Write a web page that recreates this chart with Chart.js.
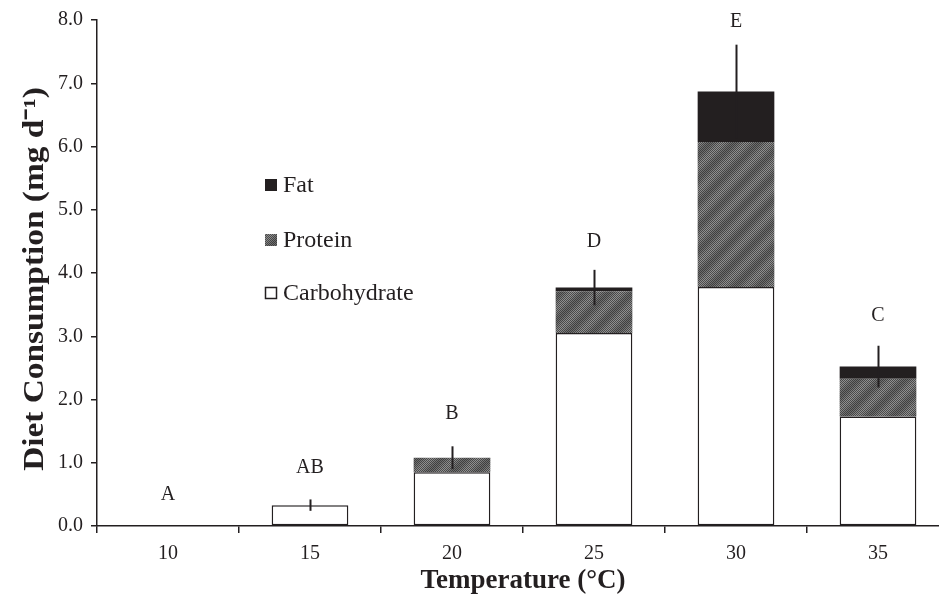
<!DOCTYPE html>
<html>
<head>
<meta charset="utf-8">
<script src="https://cdn.jsdelivr.net/npm/chart.js@4.4.0/dist/chart.umd.min.js"></script>
<style>
  html, body { margin: 0; padding: 0; background: #fff; overflow: hidden; }
  #wrap { position: absolute; left: 0; top: 0; width: 949px; height: 598px; }
</style>
</head>
<body>
<div id="wrap"><canvas id="myChart" width="949" height="598"></canvas></div>
<script>
// temperaturas y consumo por componente (mg/d)
var temps = ["10", "15", "20", "25", "30", "35"];
var carbohidrato = [null, 0.33, 0.85, 3.05, 3.78, 1.73];
var proteina = [null, null, 0.23, 0.66, 2.29, 0.60];
var grasa = [null, null, null, 0.06, 0.80, 0.19];
var desvio = [null, 0.09, 0.18, 0.28, 0.74, 0.33];
var letras = ["A", "AB", "B", "D", "E", "C"];
var alturaLetras = [0.5, 0.92, 1.78, 4.5, 7.98, 3.32];
var yTicks = [0, 1, 2, 3, 4, 5, 6, 7, 8];

var negro = "#231f20";
var serif = "'Liberation Serif', 'Times New Roman', serif";

// trama gris con rayas diagonales suaves para la proteina
function tramaProteina() {
  var c = document.createElement("canvas");
  c.width = 24; c.height = 24;
  var g = c.getContext("2d");
  var img = g.createImageData(24, 24);
  for (var y = 0; y < 24; y++) {
    for (var x = 0; x < 24; x++) {
      var raya = 0.5 + 0.5 * Math.cos(2 * Math.PI * ((x + y) % 24) / 24);
      var v;
      if (x % 2 == y % 2) {
        v = 62 + 14 * raya;
      } else {
        v = 108 + 38 * raya;
      }
      var i = (y * 24 + x) * 4;
      img.data[i] = v; img.data[i + 1] = v; img.data[i + 2] = v; img.data[i + 3] = 255;
    }
  }
  g.putImageData(img, 0, 0);
  return g.createPattern(c, "repeat");
}

var ctxMain = document.getElementById("myChart").getContext("2d");
var patron = tramaProteina();

// barras de error (solo linea vertical) y letras encima
var extras = {
  id: "extras",
  afterDatasetsDraw: function (chart) {
    var ctx = chart.ctx;
    var xs = chart.scales.x, ys = chart.scales.y;
    ctx.save();
    ctx.strokeStyle = negro;
    ctx.lineWidth = 2;
    for (var i = 0; i < temps.length; i++) {
      if (desvio[i] == null) continue;
      var total = (carbohidrato[i] || 0) + (proteina[i] || 0) + (grasa[i] || 0);
      var px = Math.round(xs.getPixelForValue(i)) + 0.5;
      ctx.beginPath();
      ctx.moveTo(px, ys.getPixelForValue(total - desvio[i]));
      ctx.lineTo(px, ys.getPixelForValue(total + desvio[i]));
      ctx.stroke();
    }
    ctx.fillStyle = negro;
    ctx.font = "20px " + serif;
    ctx.textAlign = "center";
    ctx.textBaseline = "middle";
    for (var j = 0; j < letras.length; j++) {
      ctx.fillText(letras[j], xs.getPixelForValue(j), ys.getPixelForValue(alturaLetras[j]));
    }
    ctx.restore();
  }
};

// leyenda dentro del grafico y titulo del eje y (algo estirado)
var leyenda = {
  id: "leyenda",
  afterDraw: function (chart) {
    var ctx = chart.ctx;
    var items = [
      { t: "Fat", f: negro, b: null, y: 185 },
      { t: "Protein", f: patron, b: null, y: 240 },
      { t: "Carbohydrate", f: "#ffffff", b: negro, y: 293 }
    ];
    ctx.save();
    ctx.font = "24px " + serif;
    ctx.textBaseline = "middle";
    ctx.textAlign = "left";
    for (var k = 0; k < items.length; k++) {
      var it = items[k];
      ctx.fillStyle = it.f;
      ctx.fillRect(265, it.y - 6, 12, 12);
      if (it.b) {
        ctx.strokeStyle = it.b;
        ctx.lineWidth = 1.5;
        ctx.strokeRect(265.5, it.y - 5.5, 11, 11);
      }
      ctx.fillStyle = negro;
      ctx.fillText(it.t, 283, it.y + 1);
    }
    ctx.restore();

    ctx.save();
    ctx.translate(36, (chart.chartArea.top + chart.chartArea.bottom) / 2 + 6);
    ctx.rotate(-Math.PI / 2);
    ctx.scale(1.15, 1);
    ctx.font = "bold 29px " + serif;
    ctx.fillStyle = negro;
    ctx.textAlign = "center";
    ctx.textBaseline = "middle";
    ctx.fillText("Diet Consumption (mg d\u207B\u00B9)", 0, 0);
    ctx.restore();
  }
};

new Chart(ctxMain, {
  type: "bar",
  data: {
    labels: temps,
    datasets: [
      { label: "Carbohydrate", data: carbohidrato, backgroundColor: "#ffffff",
        borderColor: negro, borderWidth: 1.5, borderSkipped: false },
      { label: "Protein", data: proteina, backgroundColor: patron, borderWidth: 0 },
      { label: "Fat", data: grasa, backgroundColor: negro, borderWidth: 0 }
    ]
  },
  options: {
    responsive: false,
    animation: false,
    events: [],
    layout: { padding: { top: 18, right: 0, left: 0, bottom: 0 } },
    datasets: { bar: { categoryPercentage: 1, barPercentage: 0.54 } },
    plugins: { legend: { display: false }, tooltip: { enabled: false } },
    scales: {
      x: {
        stacked: true,
        offset: true,
        grid: { display: true, offset: true, drawOnChartArea: false, drawTicks: true,
                tickLength: 7, color: negro, lineWidth: 1.5 },
        border: { display: true, color: negro, width: 1.5 },
        ticks: { color: negro, font: { family: serif, size: 20 }, padding: 9 },
        title: { display: true, text: "Temperature (°C)", color: negro,
                 font: { family: serif, size: 27, weight: "bold" }, padding: { top: 0, bottom: 1 } },
        afterFit: function (s) { s.height = 72; }
      },
      y: {
        stacked: true,
        min: 0,
        max: 8,
        afterBuildTicks: function (s) { s.ticks = yTicks.map(function (v) { return { value: v }; }); },
        grid: { display: true, drawOnChartArea: false, drawTicks: true, tickLength: 6,
                color: negro, lineWidth: 1.5 },
        border: { display: true, color: negro, width: 1.5 },
        ticks: { color: negro, font: { family: serif, size: 20 }, padding: 8,
                 callback: function (v) { return Number(v).toFixed(1); } },
        title: { display: false },
        afterFit: function (s) { s.width = 97; }
      }
    }
  },
  plugins: [extras, leyenda]
});
</script>
</body>
</html>
